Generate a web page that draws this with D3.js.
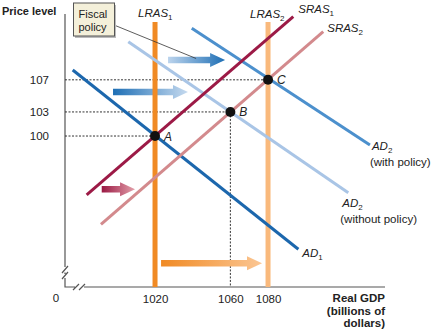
<!DOCTYPE html>
<html>
<head>
<meta charset="utf-8">
<script src="https://cdn.jsdelivr.net/npm/d3@7"></script>
<style>
  body { margin: 0; background: #fff; }
  svg { display: block; font-family: "Liberation Sans", Arial, Helvetica, sans-serif; }
</style>
</head>
<body>
<div id="chart"></div>
<script>
// axis ticks
var xTicks = [1020, 1060, 1080];
var yTicks = [100, 103, 107];

// curves, as [gdp, price] end points
var lras1 = [[1020, 81.2], [1020, 114.2]];
var lras2 = [[1080, 81.2], [1080, 114.2]];
var sras1 = [[983.7, 92.66], [1093.4, 114.86]];
var sras2 = [[991.3, 89.0], [1109.3, 113.0]];
var ad1 = [[976.3, 108.22], [1096.1, 85.9]];
var ad2NoPolicy = [[1005.8, 111.75], [1122.6, 92.94]];
var ad2Policy = [[1039.5, 113.42], [1134.1, 98.88]];

// equilibrium points
var pointNames = ["A", "B", "C"];
var pointGdp = [1020, 1060, 1080];
var pointPrice = [100, 103, 107];

// shift arrows: start gdp, end gdp, price level
var arrowFrom = [1026.9, 997.7, 991.7, 1023.2];
var arrowTo = [1057.2, 1037.5, 1009.4, 1076.8];
var arrowAt = [109.47, 105.48, 93.37, 84.15];

var width = 435, height = 334;
var svg = d3.select("#chart").append("svg")
    .attr("width", width)
    .attr("height", height);

var x = d3.scaleLinear().domain([972.2, 1142.1]).range([65, 385]);
var y = d3.scaleLinear().domain([81.2, 114.2]).range([287, 22]);

var defs = svg.append("defs");
var gradColors = [
    ["#bcd4ed", "#1e6fb5"],
    ["#1e6fb5", "#c6daef"],
    ["#9a1843", "#e3a0aa"],
    ["#f08a24", "#fbc693"]
];
gradColors.forEach(function (c, i) {
    var g = defs.append("linearGradient").attr("id", "grad" + i)
        .attr("x1", "0").attr("x2", "1").attr("y1", "0").attr("y2", "0");
    g.append("stop").attr("offset", "0").attr("stop-color", c[0]);
    g.append("stop").attr("offset", "1").attr("stop-color", c[1]);
});

var line = d3.line()
    .x(function (d) { return x(d[0]); })
    .y(function (d) { return y(d[1]); });

//坐标轴（带断开符号）
var axisColor = "#555";
var axis = svg.append("g").attr("stroke", axisColor).attr("stroke-width", 1.2).attr("fill", "none");
axis.append("path").attr("d", "M65,14V267 M62,273L68,266 M65,272.5V274 M62,279L68,272 M65,278V287H75 M73,290L79,284 M79,290L85,284 M84,287H385");

// dotted guide lines
var guides = svg.append("g")
    .attr("stroke", "#333")
    .attr("stroke-width", 1)
    .attr("stroke-dasharray", "2,1.5");
pointGdp.forEach(function (g, i) {
    guides.append("line")
        .attr("x1", x.range()[0]).attr("x2", x(g))
        .attr("y1", y(pointPrice[i])).attr("y2", y(pointPrice[i]));
});
guides.append("line")
    .attr("x1", x(pointGdp[1])).attr("x2", x(pointGdp[1]))
    .attr("y1", y(pointPrice[1])).attr("y2", y.range()[0]);

// arrows showing the shifts
function arrowPath(i) {
    var x0 = x(arrowFrom[i]), x1 = x(arrowTo[i]), yc = y(arrowAt[i]);
    var head = 15, shaft = 3.3, hh = 7;
    var xh = x1 - head;
    return "M" + x0 + "," + (yc - shaft) + "H" + xh + "V" + (yc - hh) +
        "L" + x1 + "," + yc + "L" + xh + "," + (yc + hh) + "V" + (yc + shaft) +
        "H" + x0 + "Z";
}
arrowFrom.forEach(function (d, i) {
    svg.append("path").attr("d", arrowPath(i)).attr("fill", "url(#grad" + i + ")");
});

// curves
var curves = [
    {data: lras1, color: "#f08a24", w: 5},
    {data: lras2, color: "#f9b97c", w: 5},
    {data: ad2NoPolicy, color: "#a9c5e6", w: 3},
    {data: ad2Policy, color: "#4c90cd", w: 3},
    {data: ad1, color: "#1c67ad", w: 3},
    {data: sras2, color: "#d38a8d", w: 3},
    {data: sras1, color: "#9c1a46", w: 3}
];
svg.append("g").selectAll("path")
    .data(curves)
    .enter()
    .append("path")
    .attr("d", function (d) { return line(d.data); })
    .attr("stroke", function (d) { return d.color; })
    .attr("stroke-width", function (d) { return d.w; })
    .attr("fill", "none");

// equilibrium dots
svg.append("g").selectAll("circle")
    .data(pointNames)
    .enter()
    .append("circle")
    .attr("cx", function (d, i) { return x(pointGdp[i]); })
    .attr("cy", function (d, i) { return y(pointPrice[i]); })
    .attr("r", 5)
    .attr("fill", "#111");

svg.append("g").selectAll("text")
    .data(pointNames)
    .enter()
    .append("text")
    .attr("x", function (d, i) { return x(pointGdp[i]) + 9; })
    .attr("y", function (d, i) { return y(pointPrice[i]) + 4.5; })
    .attr("font-size", 12)
    .attr("font-style", "italic")
    .attr("fill", "#222")
    .text(function (d) { return d; });

// tick labels
var xAxis = svg.append("g")
    .attr("transform", "translate(0,287)")
    .call(d3.axisBottom(x).tickValues(xTicks).tickSize(0).tickPadding(8).tickFormat(d3.format("d")));
xAxis.select(".domain").remove();
xAxis.selectAll("text").attr("font-size", 11.5).attr("fill", "#222").attr("font-family", null);

var yAxis = svg.append("g")
    .attr("transform", "translate(65,0)")
    .call(d3.axisLeft(y).tickValues(yTicks).tickSize(0).tickPadding(16));
yAxis.select(".domain").remove();
yAxis.selectAll("text").attr("font-size", 11.5).attr("fill", "#222").attr("font-family", null);

svg.append("text").attr("x", 56).attr("y", 302)
    .attr("text-anchor", "middle").attr("font-size", 11.5).attr("fill", "#222").text("0");

// axis titles
svg.append("text").attr("x", 2).attr("y", 15)
    .attr("font-size", 11).attr("font-weight", "bold").attr("fill", "#222").text("Price level");
var xt = svg.append("text").attr("text-anchor", "end")
    .attr("font-size", 11.5).attr("font-weight", "bold").attr("fill", "#222");
["Real GDP", "(billions of", "dollars)"].forEach(function (t, i) {
    xt.append("tspan").attr("x", 385).attr("y", 302 + i * 12.5).text(t);
});

// curve labels with subscripts
function curveLabel(px, py, name, sub, lines) {
    var t = svg.append("text").attr("x", px).attr("y", py)
        .attr("font-size", 11.5).attr("fill", "#222");
    t.append("tspan").attr("font-style", "italic").text(name);
    t.append("tspan").attr("font-size", 8).attr("dy", 3).text(sub);
    (lines || []).forEach(function (l, i) {
        svg.append("text").attr("x", px - 2).attr("y", py + 16 + i * 14)
            .attr("font-size", 11.5).attr("fill", "#222").text(l);
    });
}
curveLabel(x(lras1[1][0]) - 17, y(lras1[1][1]) - 5, "LRAS", "1");
curveLabel(x(lras2[1][0]) - 18, y(lras2[1][1]) - 4, "LRAS", "2");
curveLabel(x(sras1[1][0]) + 5, y(sras1[1][1]) - 4, "SRAS", "1");
curveLabel(x(sras2[1][0]) + 4, y(sras2[1][1]) + 0, "SRAS", "2");
curveLabel(x(ad2Policy[1][0]) + 2, y(ad2Policy[1][1]) + 5, "AD", "2", ["(with policy)"]);
curveLabel(x(ad2NoPolicy[1][0]) - 6, y(ad2NoPolicy[1][1]) + 14, "AD", "2", ["(without policy)"]);
curveLabel(x(ad1[1][0]) + 4, y(ad1[1][1]) + 8, "AD", "1");

// fiscal policy callout
svg.append("line")
    .attr("x1", 114).attr("y1", 25)
    .attr("x2", x(1041.8)).attr("y2", y(arrowAt[0]) - 1.5)
    .attr("stroke", "#333").attr("stroke-width", 0.8);
svg.append("rect").attr("x", 75).attr("y", 5).attr("width", 41).attr("height", 33)
    .attr("fill", "#bbb");
svg.append("rect").attr("x", 73.5).attr("y", 3).attr("width", 41).attr("height", 33)
    .attr("fill", "#f4f0da").attr("stroke", "#555").attr("stroke-width", 1);
var ft = svg.append("text").attr("font-size", 11).attr("fill", "#222");
ft.append("tspan").attr("x", 78.5).attr("y", 17.5).text("Fiscal");
ft.append("tspan").attr("x", 78.5).attr("y", 31).text("policy");
</script>
</body>
</html>
